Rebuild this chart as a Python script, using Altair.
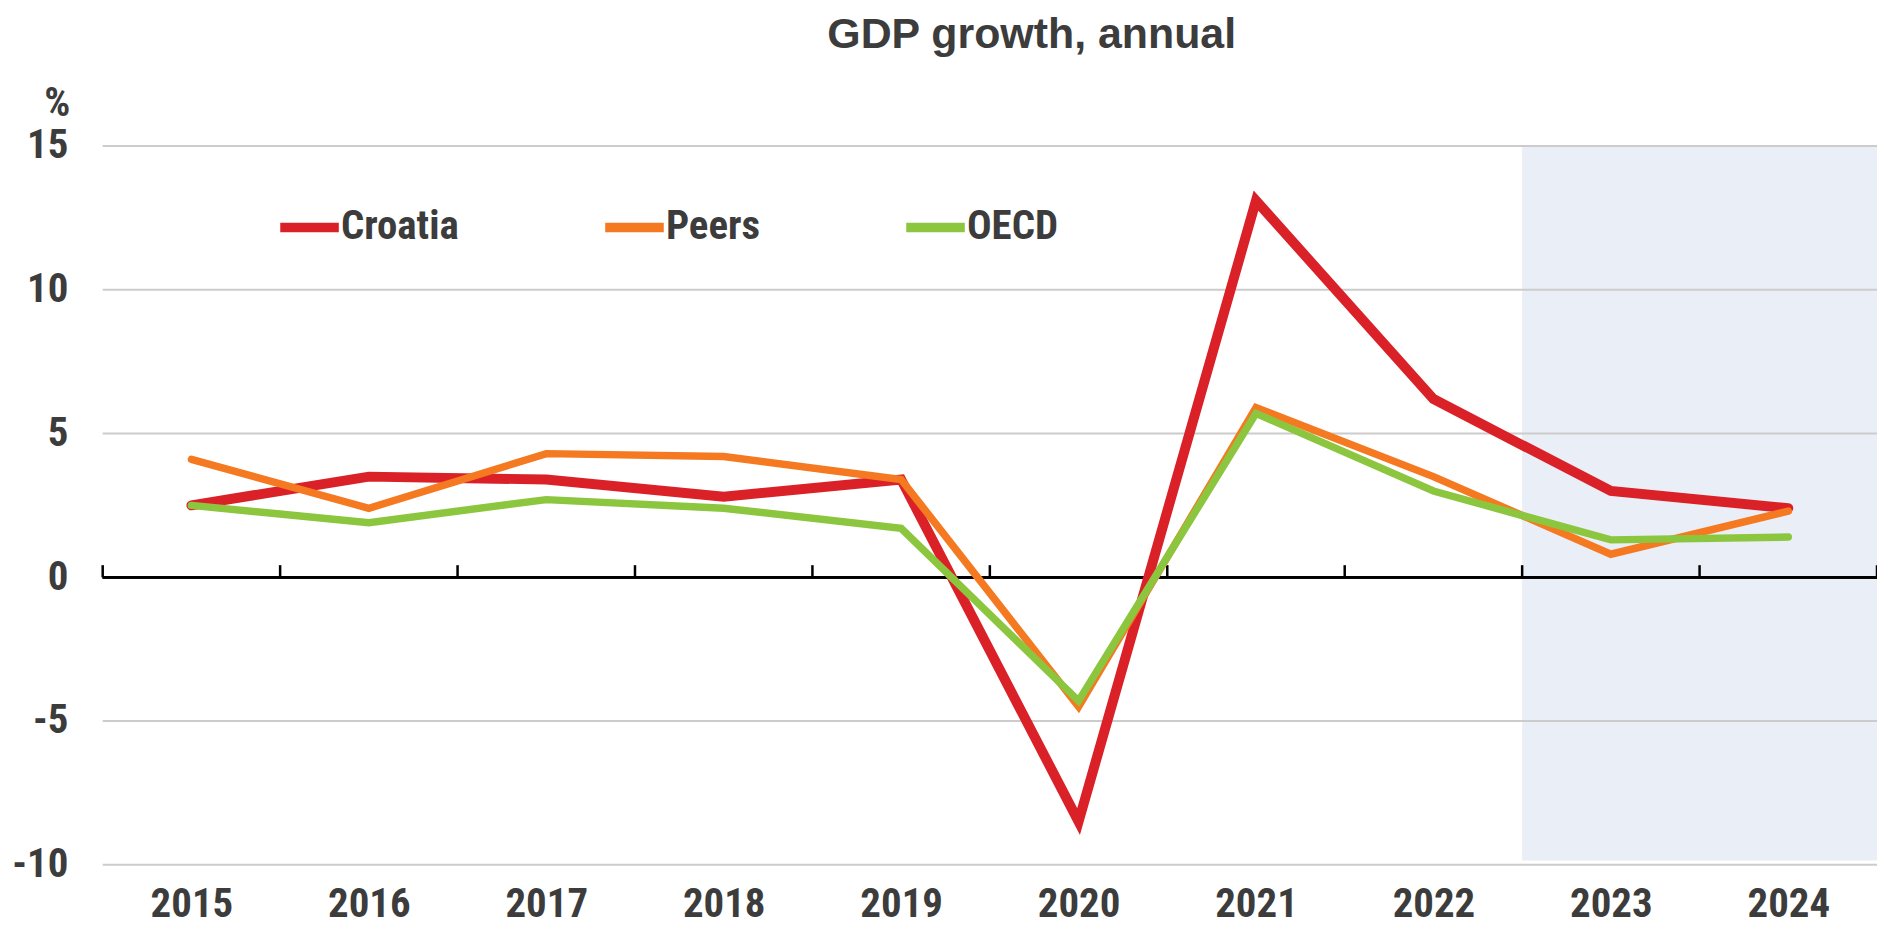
import altair as alt
import pandas as pd

# ---- data ----
years = [2015, 2016, 2017, 2018, 2019, 2020, 2021, 2022, 2023, 2024]
croatia = [2.5, 3.5, 3.4, 2.8, 3.4, -8.5, 13.1, 6.2, 3.0, 2.4]
peers = [4.1, 2.4, 4.3, 4.2, 3.4, -4.5, 5.9, 3.5, 0.8, 2.3]
oecd = [2.5, 1.9, 2.7, 2.4, 1.7, -4.3, 5.7, 3.0, 1.3, 1.4]

series_names = ["Croatia", "Peers", "OECD"]
series_colors = ["#DA2128", "#F47920", "#8CC63F"]
series_widths = [10, 7.5, 7.5]

y_ticks = [-10, -5, 0, 5, 10, 15]
grid_values = [-10, -5, 5, 10, 15]
tick_bounds = [2014.5, 2015.5, 2016.5, 2017.5, 2018.5, 2019.5, 2020.5,
               2021.5, 2022.5, 2023.5, 2024.5]
forecast_x = [2022.5, 2024.5]
forecast_y = [-9.85, 15]
x_domain = [2014.5, 2024.5]
y_domain = [-10, 15]

TEXT = "#3C3C3C"
NARROW = "Roboto Condensed, Liberation Sans Narrow, Arial Narrow, sans-serif"
WIDE = "Liberation Sans, Arial, sans-serif"
FS = 41

rows = []
for name, vals in zip(series_names, [croatia, peers, oecd]):
    for yr, v in zip(years, vals):
        rows.append({"year": yr, "value": v, "series": name})
df = pd.DataFrame(rows)

shade_df = pd.DataFrame({"year": [forecast_x[0]], "year2": [forecast_x[1]],
                         "value": [forecast_y[0]], "value2": [forecast_y[1]]})
grid_df = pd.DataFrame({"value": grid_values})
tick_df = pd.DataFrame({"year": tick_bounds})

x_scale = alt.Scale(domain=x_domain, nice=False, zero=False)
y_scale = alt.Scale(domain=y_domain, nice=False, zero=False)

x_axis = alt.Axis(values=years, format="d", grid=False, domain=False, ticks=False,
                  tickSize=0, labelPadding=52, labelBaseline="alphabetic", title=None,
                  labelFont=NARROW, labelFontSize=FS, labelFontWeight="bold",
                  labelColor=TEXT, labelFlush=False, labelOverlap=False)
y_axis = alt.Axis(values=y_ticks, grid=False, domain=False, ticks=False, tickSize=0,
                  labelExpr="datum.value + ''",
                  labelPadding=35, title="%", titleAngle=0, titleX=-46, titleY=-43,
                  titleAlign="center", titleBaseline="middle", titleFont=NARROW,
                  titleFontSize=FS, titleFontWeight="bold", titleColor=TEXT,
                  labelFont=NARROW, labelFontSize=FS, labelFontWeight="bold",
                  labelColor=TEXT, labelOverlap=False, labelFlush=False)


def X(field="year"):
    return alt.X(f"{field}:Q", scale=x_scale, axis=x_axis)


def Y(field="value"):
    return alt.Y(f"{field}:Q", scale=y_scale, axis=y_axis)


shade = alt.Chart(shade_df).mark_rect(color="#EAEEF6").encode(
    x=X(), x2="year2:Q", y=Y(), y2="value2:Q")

grid = alt.Chart(grid_df).mark_rule(color="#CCCCCC", strokeWidth=2).encode(y=Y())

zero = alt.Chart(grid_df).mark_rule(color="#000000", strokeWidth=2.5).encode(
    y=alt.datum(0, scale=y_scale, axis=y_axis))

ticks = alt.Chart(tick_df).mark_rule(color="#000000", strokeWidth=2.5).encode(
    x=X(), y=alt.datum(0), y2=alt.datum(0.42))

color = alt.Color("series:N",
                  scale=alt.Scale(domain=series_names, range=series_colors),
                  legend=alt.Legend(orient="none", legendX=173, legendY=47,
                                    direction="horizontal", title=None,
                                    symbolType="stroke", symbolSize=3450,
                                    symbolStrokeWidth=9.5, labelFont=NARROW,
                                    labelFontSize=FS, labelFontWeight="bold",
                                    labelColor=TEXT, columnPadding=127,
                                    labelOffset={"expr": "-3"}, labelLimit=400))

lines = []
for name, w in zip(series_names, series_widths):
    lines.append(
        alt.Chart(df).transform_filter(alt.datum.series == name)
        .mark_line(strokeWidth=w, strokeCap="round", strokeJoin="miter")
        .encode(x=X(), y=Y(), color=color)
    )

chart = alt.layer(shade, grid, zero, ticks, *lines).properties(
    width=1780, height=721,
    title=alt.TitleParams("GDP growth, annual", font=WIDE, fontSize=43,
                          fontWeight="bold", color=TEXT, anchor="middle",
                          dx=42, baseline="alphabetic", offset=39, dy=48),
    autosize=alt.AutoSizeParams(type="none"),
    padding={"left": 95, "top": 137, "right": 0, "bottom": 62},
).configure_view(stroke=None)

chart.save("out.html", embed_options={"renderer": "svg", "actions": False})
